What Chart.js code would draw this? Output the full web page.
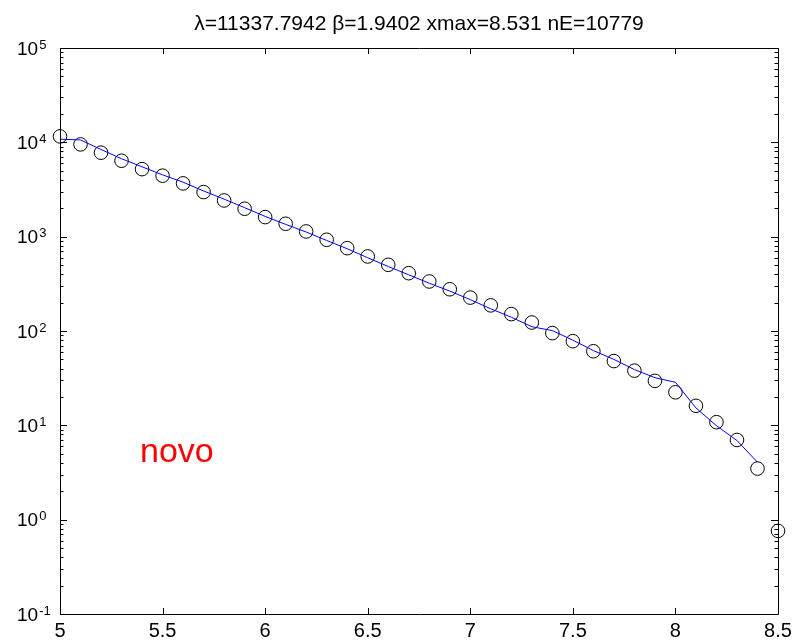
<!DOCTYPE html>
<html>
<head>
<meta charset="utf-8">
<script src="https://cdn.jsdelivr.net/npm/chart.js@4.4.1/dist/chart.umd.min.js"></script>
<style>
html,body{margin:0;padding:0;background:#fff;}
#c{display:block;}
</style>
</head>
<body>
<canvas id="c" width="798" height="642"></canvas>
<script>
// ---- data ----
const titleText = "\u03bb=11337.7942 \u03b2=1.9402 xmax=8.531 nE=10779";
const annotationText = "novo";
const binX = [5.0,5.1,5.2,5.3,5.4,5.5,5.6,5.7,5.8,5.9,6.0,6.1,6.2,6.3,6.4,6.5,6.6,6.7,6.8,6.9,7.0,7.1,7.2,7.3,7.4,7.5,7.6,7.7,7.8,7.9,8.0,8.1,8.2,8.3,8.4,8.5];
const observed = [11560,9510,7770,6380,5200,4430,3670,2970,2420,1977,1612,1370,1136,927,755,617,503,410,335,277,226,187,151,123,95,78,61,48,38,29.6,22.4,16.1,10.8,7.0,3.48,0.76];
const fitX = [5.0,5.1,5.2,5.3,5.4,5.5,5.6,5.7,5.8,5.9,6.0,6.1,6.2,6.3,6.4,6.5,6.6,6.7,6.8,6.9,7.0,7.1,7.2,7.3,7.4,7.5,7.6,7.7,7.8,7.9,8.0,8.1,8.2,8.3,8.4];
const fitted = [10800,10600,8400,6700,5500,4520,3780,3050,2500,2030,1640,1350,1120,912,745,598,483,394,321,265,215,172,140,111,101,80,62,50,39,32,28.6,15.3,9.9,6.9,4.06];
const xTicks = [5,5.5,6,6.5,7,7.5,8,8.5];
const yExponents = [-1,0,1,2,3,4,5];

const FONT = "'Liberation Sans', Arial, sans-serif";

const framePlugin = {
  id: 'frame',
  afterDraw(chart) {
    const ctx = chart.ctx;
    const a = chart.chartArea;
    const xs = chart.scales.x, ys = chart.scales.y;
    ctx.save();
    ctx.strokeStyle = '#000';
    ctx.lineWidth = 1;
    ctx.beginPath();
    ctx.rect(Math.round(a.left)+0.5, Math.round(a.top)+0.5, Math.round(a.right-a.left), Math.round(a.bottom-a.top));
    ctx.stroke();
    // x ticks (inward, bottom and top)
    ctx.beginPath();
    xTicks.forEach(v => {
      const px = Math.round(xs.getPixelForValue(v)) + 0.5;
      ctx.moveTo(px, a.bottom); ctx.lineTo(px, a.bottom - 6);
      ctx.moveTo(px, a.top); ctx.lineTo(px, a.top + 6);
    });
    // y ticks: decades and minor
    yExponents.forEach(e => {
      const py = Math.round(ys.getPixelForValue(Math.pow(10, e))) + 0.5;
      ctx.moveTo(a.left, py); ctx.lineTo(a.left + 7, py);
      ctx.moveTo(a.right, py); ctx.lineTo(a.right - 7, py);
      if (e < yExponents[yExponents.length-1]) {
        for (let m = 2; m <= 9; m++) {
          const pm = Math.round(ys.getPixelForValue(m * Math.pow(10, e))) + 0.5;
          ctx.moveTo(a.left, pm); ctx.lineTo(a.left + 3.5, pm);
          ctx.moveTo(a.right, pm); ctx.lineTo(a.right - 3.5, pm);
        }
      }
    });
    ctx.stroke();
    // y tick labels 10^e
    ctx.fillStyle = '#000';
    ctx.textBaseline = 'alphabetic';
    ctx.textAlign = 'left';
    yExponents.forEach(e => {
      const py = ys.getPixelForValue(Math.pow(10, e));
      ctx.font = '19px ' + FONT;
      const base = '10';
      const w = ctx.measureText(base).width;
      const x0 = 17;
      ctx.fillText(base, x0, py + 6.8);
      ctx.font = '13px ' + FONT;
      ctx.fillText(String(e), x0 + w + 1, py + 0.5);
    });
    // annotation
    ctx.fillStyle = '#ff0000';
    ctx.font = '34px ' + FONT;
    ctx.fillText(annotationText, xs.getPixelForValue(5.39), ys.getPixelForValue(4.06));
    ctx.restore();
  }
};

const chart = new Chart(document.getElementById('c'), {
  type: 'line',
  data: {
    datasets: [
      {
        label: 'fit',
        data: fitX.map((x, i) => ({x: x, y: fitted[i]})),
        borderColor: '#0000ff',
        borderWidth: 1,
        pointRadius: 0,
        showLine: true,
        fill: false,
        tension: 0,
        clip: false
      },
      {
        label: 'data',
        data: binX.map((x, i) => ({x: x, y: observed[i]})),
        showLine: false,
        pointStyle: 'circle',
        pointRadius: 6.8,
        pointBorderWidth: 1,
        pointBorderColor: '#000',
        pointBackgroundColor: 'rgba(0,0,0,0)',
        borderColor: '#000',
        backgroundColor: 'rgba(0,0,0,0)',
        clip: false
      }
    ]
  },
  options: {
    responsive: false,
    animation: false,
    devicePixelRatio: 1,
    layout: { padding: { left: 60, right: 20, top: 0, bottom: -6 } },
    plugins: {
      legend: { display: false },
      tooltip: { enabled: false },
      title: {
        display: true,
        text: titleText,
        color: '#000',
        font: { family: FONT, size: 21, weight: 'normal', lineHeight: 1.0 },
        padding: { top: 14, bottom: 13 }
      }
    },
    scales: {
      x: {
        type: 'linear',
        min: 5, max: 8.5,
        afterBuildTicks: s => { s.ticks = xTicks.map(v => ({value: v})); },
        grid: { display: false, drawTicks: false },
        border: { display: false },
        ticks: {
          color: '#000',
          font: { family: FONT, size: 20 },
          padding: 5,
          maxRotation: 0,
          autoSkip: false,
          callback: v => String(v)
        }
      },
      y: {
        type: 'logarithmic',
        min: 0.1, max: 100000,
        grid: { display: false, drawTicks: false },
        border: { display: false },
        ticks: { display: false }
      }
    }
  },
  plugins: [framePlugin]
});
</script>
</body>
</html>
